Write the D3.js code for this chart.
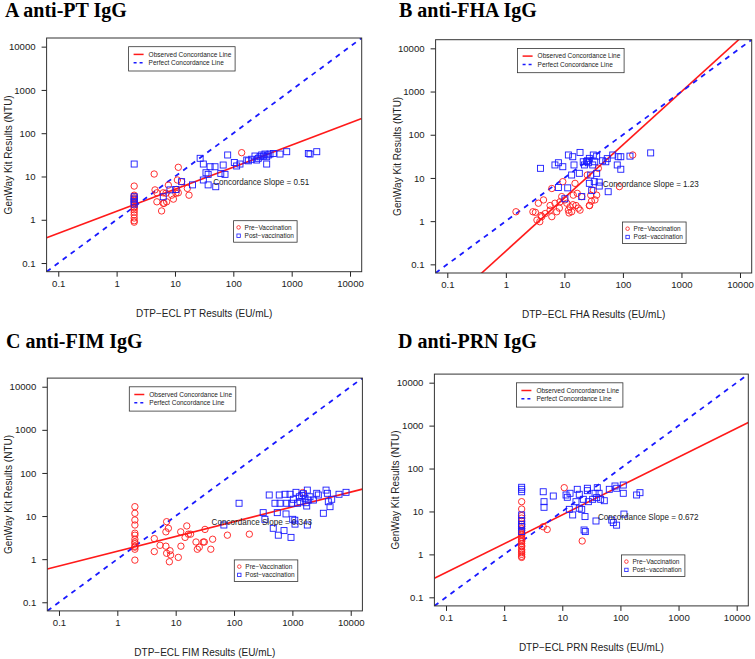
<!DOCTYPE html>
<html>
<head>
<meta charset="utf-8">
<script src="https://cdn.jsdelivr.net/npm/d3@7"></script>
<style>
  body { margin: 0; background: #fff; }
  svg { display: block; font-family: 'Liberation Sans', Arial, sans-serif; }
</style>
</head>
<body>
<div class="chart"></div>
<script>
// values, [DTP-ECL, GenWay]
const ptPre = [
  [2, 6.0], [2, 3.7], [2, 3.5], [2, 3.2], [2, 3.0], [2, 2.8], [2, 2.6], [2, 2.4], [2, 2.2],
  [2, 2.0], [2, 1.9], [2, 1.7], [2, 1.5], [2, 1.3], [2, 1.1], [2, 0.95], [2, 0.88],
  [4.4, 11.4], [11.4, 16.3], [139, 35.5], [4.55, 4.9], [4.9, 4.2], [7.7, 6.3], [11, 8.3],
  [13, 7.6], [6.3, 4.2], [4.9, 2.6], [6.3, 2.4], [5.9, 1.6], [7.2, 2.6], [8.8, 3.7],
  [9.4, 3.0], [10.4, 4.1], [11.4, 4.2], [16.3, 5.3], [17.4, 3.7], [7.0, 4.1], [10.7, 5.0], [6.5, 2.4]
];
const ptPost = [
  [2, 19.4], [2, 3.4], [2, 3.0], [2, 2.6], [2, 2.3],
  [27, 26.3], [30.6, 19.4], [40, 16.8], [48.5, 16.8], [67, 18.4], [80, 31.4], [104, 21],
  [114, 17.5], [130, 19.4], [170, 24], [181, 23], [206, 25], [235, 29.7], [251, 24],
  [268, 26.3], [286, 28.6], [306, 31.4], [327, 29.7], [349, 33], [373, 28.6], [398, 31.4],
  [425, 33], [485, 34], [373, 19.4], [631, 33], [822, 37.4], [1930, 34], [2060, 33], [2690, 37.4],
  [34, 12.2], [37, 11.2], [61, 11.8], [72, 11.2], [37, 6.4], [50, 5.8], [30.6, 8.3], [20, 6.4],
  [13, 7.6], [8.2, 4.9], [10.4, 5.0], [6.3, 3.4]
];
const fhaPre = [
  [1.49, 1.65], [3.4, 1.06], [3.6, 2.6], [4.4, 3.1], [2.9, 1.65], [4.1, 1.27], [3.8, 0.97],
  [4.7, 1.5], [5.7, 2.3], [6.1, 5.7], [5.7, 1.8], [6.9, 2.6], [7.4, 1.65], [8.2, 2.0],
  [9.0, 3.7], [9.4, 8.2], [8.4, 2.8], [10.2, 3.1], [11, 2.6], [11.7, 1.8], [12.5, 2.15],
  [13.3, 1.65], [14.2, 4.0], [15.2, 7.5], [15.8, 2.3], [16.6, 4.4], [17.3, 2.0], [18.5, 1.8],
  [19.8, 3.7], [24.6, 11.7], [26.7, 2.3], [28.2, 4.0], [31.2, 5.2], [33.3, 3.1], [35.6, 4.0],
  [38, 16.7], [147, 34], [87, 6.3], [3.2, 1.6], [4.0, 1.35], [6.1, 1.27], [12, 1.55],
  [14, 2.4], [29, 2.9], [27, 2.3]
];
const fhaPost = [
  [3.9, 16.7], [6.9, 20], [7.9, 22.5], [9.4, 18.2], [11.7, 34], [13.9, 31], [14.6, 20],
  [18.5, 39], [21, 23.7], [24.7, 25], [25.7, 22.5], [26.7, 28.4], [31.2, 34], [35.6, 32],
  [33, 23.7], [30.5, 20], [51, 23.7], [54, 28], [67, 34], [83, 31], [92, 31], [80, 20],
  [92, 15.9], [132, 32], [298, 38], [13.3, 11.7], [26.7, 7.5], [32.4, 8.2], [39.4, 8],
  [28.2, 11.7], [35.6, 12.8], [39.4, 6.5], [29.3, 5.1], [56, 4.8], [10.2, 3.3], [19.8, 3.7],
  [11.4, 5.9], [7.9, 6], [18, 12.8], [24, 24], [22, 20], [45, 25]
];
const fimPre = [
  [2, 16.5], [2, 11.6], [2, 8.1], [2, 6.2], [2, 4.0], [2, 3.6], [2, 2.9], [2, 2.5], [2, 2.3],
  [2, 2.0], [2, 1.9], [2, 1.7], [2, 0.95],
  [7.0, 7.4], [7.5, 5.2], [6.8, 4.3], [4.3, 3.0], [5.4, 2.1], [4.3, 1.5], [6.8, 2.0],
  [7.0, 1.37], [8.0, 1.57], [8.2, 1.25], [7.8, 0.87], [11.1, 1.1], [12.2, 4.3], [12.3, 2.0],
  [15.5, 5.9], [16.5, 3.8], [18, 3.8], [14.5, 3.2], [22.3, 2.5], [23.5, 1.7], [25.4, 1.9],
  [29.7, 2.5], [31, 2.5], [31.8, 4.9], [40, 1.7], [43, 2.9], [77, 3.6], [183, 3.8], [1500, 35]
];
const fimPost = [
  [67, 6.2], [122, 19.8], [316, 12], [338, 8.4], [401, 30.8], [470, 5.2], [503, 19.8],
  [551, 12], [596, 30.8], [574, 3.6], [614, 19.8], [719, 4.6], [748, 32], [778, 11.2],
  [800, 19.8], [911, 32], [947, 3.2], [973, 19.8], [1013, 8.4], [1109, 6.5], [1038, 24.5],
  [1153, 35.5], [1233, 19.8], [1316, 28], [1352, 21.5], [1647, 25.8], [1713, 20.4],
  [1761, 17.1], [1803, 40], [1875, 23.5], [2004, 28], [2287, 23.5], [2612, 33.7], [2785, 30.8],
  [3394, 11.6], [3776, 40], [3980, 33.7], [4130, 21.5], [4417, 16.5], [4721, 24.5],
  [6295, 32], [8310, 35.5], [1803, 6.2], [1100, 8], [1450, 30], [1550, 33]
];
const prnPre = [
  [2, 16.9], [2, 11.4], [2, 8], [2, 7], [2, 6], [2, 5], [2, 4.5], [2, 4], [2, 3.6], [2, 3.2],
  [2, 3.0], [2, 2.8], [2, 2.5], [2, 2.3], [2, 2.1], [2, 2.0], [2, 1.8], [2, 1.6], [2, 1.5],
  [2, 1.3], [2, 1.2], [2, 1.1], [2, 1.0], [2, 0.9], [2, 0.85],
  [10.8, 35.8], [4.7, 4.4], [5.5, 3.8], [22, 2.05]
];
const prnPost = [
  [2, 36.6], [2, 32.8], [2, 28.8], [2, 8.3], [2, 6.1], [2, 5.0], [2, 4.4], [2, 3.4],
  [4.7, 28.8], [4.85, 16.9], [4.85, 12.5], [7.0, 22.9], [11.6, 24.2], [12.2, 21.4],
  [13.6, 26.5], [13.2, 11.2], [15.1, 8.3], [17.2, 16.9], [18.1, 32.8], [19.6, 25.1],
  [19.6, 11.9], [21.6, 11.2], [23, 19.2], [24.6, 7.6], [27, 34.7], [27, 30.5], [28.1, 16.9],
  [33.3, 19.2], [36.6, 26.5], [39, 21], [40, 35.8], [43, 26.5], [45.7, 19.2], [52.8, 17.8],
  [64.4, 32.8], [80.7, 39.2], [86.3, 34.7], [112, 41.3], [112, 26.5], [190, 24.2],
  [217, 27.4], [38, 6.0], [23.7, 3.7], [24.9, 3.4], [71, 6.3], [75.5, 5.5], [86, 4.8], [115, 8.7]
];

// observed concordance lines, log10(y) = a + b * log10(x)
const fitIntercepts = [0.197, -0.693, 0.184, 0.249];
const fitSlopes = [0.51, 1.23, 0.343, 0.672];

const tickValues = [0.1, 1, 10, 100, 1000, 10000];
const tickLabels = ['0.1', '1', '10', '100', '1000', '10000'];

const titles = ['A anti-PT IgG', 'B anti-FHA IgG', 'C anti-FIM IgG', 'D anti-PRN IgG'];
const xTitles = [
  'DTP\u2212ECL PT Results (EU/mL)',
  'DTP\u2212ECL FHA Results (EU/mL)',
  'DTP\u2212ECL FIM Results (EU/mL)',
  'DTP\u2212ECL PRN Results (EU/mL)'
];
const yTitle = 'GenWay Kit Results (NTU)';
const lineNames = ['Observed Concordance Line', 'Perfect Concordance Line'];
const groupNames = ['Pre\u2212Vaccination', 'Post\u2212vaccination'];
const slopeLabelAt = [300, 7.5];

const preSets = [ptPre, fhaPre, fimPre, prnPre];
const postSets = [ptPost, fhaPost, fimPost, prnPost];

// plot boxes: left, top, right, bottom
const boxes = [
  [46.6, 38, 361.7, 271.7],
  [435.6, 39.7, 751.7, 273],
  [47.3, 378.1, 362.4, 610.9],
  [434.4, 374.1, 748.3, 605.9]
];
const titleAt = [[5, 17], [399, 17], [6, 348], [398, 348]];

const lo = Math.pow(10, -1.2);
const hi = Math.pow(10, 4.2);
const red = '#ff1a1a';
const blue = '#1a1aff';
const ink = '#222';

const svg = d3
  .select('.chart')
  .append('svg')
  .attr('width', 755)
  .attr('height', 659);

svg.append('rect').attr('width', 755).attr('height', 659).attr('fill', '#fff');

boxes.forEach(function(b, i) {
  const left = b[0], top = b[1], right = b[2], bottom = b[3];

  const x = d3.scaleLog().domain([lo, hi]).range([left, right]);
  const y = d3.scaleLog().domain([lo, hi]).range([bottom, top]);

  const g = svg.append('g').attr('class', 'panel');

  g.append('text')
    .attr('x', titleAt[i][0])
    .attr('y', titleAt[i][1])
    .style('font-family', "'Liberation Serif', 'Times New Roman', serif")
    .style('font-weight', 'bold')
    .style('font-size', '20px')
    .attr('fill', '#000')
    .text(titles[i]);

  g.append('defs')
    .append('clipPath')
    .attr('id', 'clip' + i)
    .append('rect')
    .attr('x', left)
    .attr('y', top)
    .attr('width', right - left)
    .attr('height', bottom - top);

  const xAxis = d3
    .axisBottom(x)
    .tickValues(tickValues)
    .tickFormat(function(d, k) {
      return tickLabels[k];
    })
    .tickSize(5)
    .tickPadding(3);

  const yAxis = d3
    .axisLeft(y)
    .tickValues(tickValues)
    .tickFormat(function(d, k) {
      return tickLabels[k];
    })
    .tickSize(5)
    .tickPadding(6);

  const gx = g
    .append('g')
    .attr('transform', 'translate(0,' + bottom + ')')
    .call(xAxis);
  const gy = g
    .append('g')
    .attr('transform', 'translate(' + left + ',0)')
    .call(yAxis);

  [gx, gy].forEach(function(a) {
    a.select('.domain').remove();
    a.selectAll('line').attr('stroke', ink);
    a.selectAll('text')
      .attr('fill', ink)
      .style('font-size', '9.6px')
      .style('font-family', "'Liberation Sans', Arial, sans-serif");
  });

  g.append('text')
    .attr('x', (left + right) / 2)
    .attr('y', bottom + 45)
    .attr('text-anchor', 'middle')
    .attr('fill', ink)
    .style('font-size', '10px')
    .text(xTitles[i]);

  g.append('text')
    .attr('transform', 'translate(' + (left - 35) + ',' + (top + bottom) / 2 + ') rotate(-90)')
    .attr('text-anchor', 'middle')
    .attr('fill', ink)
    .style('font-size', '10px')
    .text(yTitle);

  const plot = g.append('g').attr('clip-path', 'url(#clip' + i + ')');

  const line = d3
    .line()
    .x(function(d) {
      return x(d[0]);
    })
    .y(function(d) {
      return y(d[1]);
    });

  const fitAt = function(v) {
    return Math.pow(10, fitIntercepts[i] + fitSlopes[i] * Math.log10(v));
  };

  plot
    .append('path')
    .datum([[lo, fitAt(lo)], [hi, fitAt(hi)]])
    .attr('d', line)
    .attr('fill', 'none')
    .attr('stroke', red)
    .attr('stroke-width', 1.6);

  plot
    .append('path')
    .datum([[lo, lo], [hi, hi]])
    .attr('d', line)
    .attr('fill', 'none')
    .attr('stroke', blue)
    .attr('stroke-width', 1.8)
    .attr('stroke-dasharray', '5,5');

  plot
    .selectAll('.pre')
    .data(preSets[i])
    .enter()
    .append('circle')
    .attr('class', 'pre')
    .attr('cx', function(d) {
      return x(d[0]);
    })
    .attr('cy', function(d) {
      return y(d[1]);
    })
    .attr('r', 3.2)
    .attr('fill', 'none')
    .attr('stroke', red)
    .attr('stroke-width', 0.9);

  plot
    .selectAll('.post')
    .data(postSets[i])
    .enter()
    .append('rect')
    .attr('class', 'post')
    .attr('x', function(d) {
      return x(d[0]) - 3;
    })
    .attr('y', function(d) {
      return y(d[1]) - 3;
    })
    .attr('width', 6)
    .attr('height', 6)
    .attr('fill', 'none')
    .attr('stroke', blue)
    .attr('stroke-width', 0.9);

  // R text() is centred on its point; the face is narrow, so squeeze it a little
  g.append('text')
    .attr('transform', 'translate(' + x(slopeLabelAt[0]) + ',' + y(slopeLabelAt[1]) + ') scale(0.88,1)')
    .attr('dy', '0.35em')
    .attr('text-anchor', 'middle')
    .attr('fill', ink)
    .style('font-size', '9.2px')
    .text('Concordance Slope = ' + fitSlopes[i]);

  // line legend, top
  const l1 = g.append('g').attr('transform', 'translate(' + (left + 82) + ',' + (top + 8.7) + ')');
  l1.append('rect')
    .attr('width', 106.5)
    .attr('height', 24.3)
    .attr('fill', '#fff')
    .attr('stroke', '#333')
    .attr('stroke-width', 0.8);
  l1.selectAll('line')
    .data(lineNames)
    .enter()
    .append('line')
    .attr('x1', 5)
    .attr('x2', 15)
    .attr('y1', function(d, k) {
      return 7.7 + k * 8.3;
    })
    .attr('y2', function(d, k) {
      return 7.7 + k * 8.3;
    })
    .attr('stroke', function(d, k) {
      return k ? blue : red;
    })
    .attr('stroke-width', 1.5)
    .attr('stroke-dasharray', function(d, k) {
      return k ? '3,3' : null;
    });
  l1.selectAll('text')
    .data(lineNames)
    .enter()
    .append('text')
    .attr('x', 20)
    .attr('y', function(d, k) {
      return 7.7 + k * 8.3;
    })
    .attr('dy', '0.35em')
    .attr('fill', ink)
    .style('font-size', '6.5px')
    .text(function(d) {
      return d;
    });

  // group legend, bottom right
  const l2 = g.append('g').attr('transform', 'translate(' + (left + 187) + ',' + (bottom - 51) + ')');
  l2.append('rect')
    .attr('width', 63.5)
    .attr('height', 21.5)
    .attr('fill', '#fff')
    .attr('stroke', '#333')
    .attr('stroke-width', 0.8);
  l2.append('circle')
    .attr('cx', 5)
    .attr('cy', 6.7)
    .attr('r', 1.8)
    .attr('fill', 'none')
    .attr('stroke', red)
    .attr('stroke-width', 0.8);
  l2.append('rect')
    .attr('x', 3.3)
    .attr('y', 13.3)
    .attr('width', 3.4)
    .attr('height', 3.4)
    .attr('fill', 'none')
    .attr('stroke', blue)
    .attr('stroke-width', 0.8);
  l2.selectAll('text')
    .data(groupNames)
    .enter()
    .append('text')
    .attr('x', 11)
    .attr('y', function(d, k) {
      return 6.7 + k * 8.3;
    })
    .attr('dy', '0.35em')
    .attr('fill', ink)
    .style('font-size', '6.5px')
    .text(function(d) {
      return d;
    });

  g.append('rect')
    .attr('x', left)
    .attr('y', top)
    .attr('width', right - left)
    .attr('height', bottom - top)
    .attr('fill', 'none')
    .attr('stroke', '#333')
    .attr('stroke-width', 1);
});
</script>
</body>
</html>
